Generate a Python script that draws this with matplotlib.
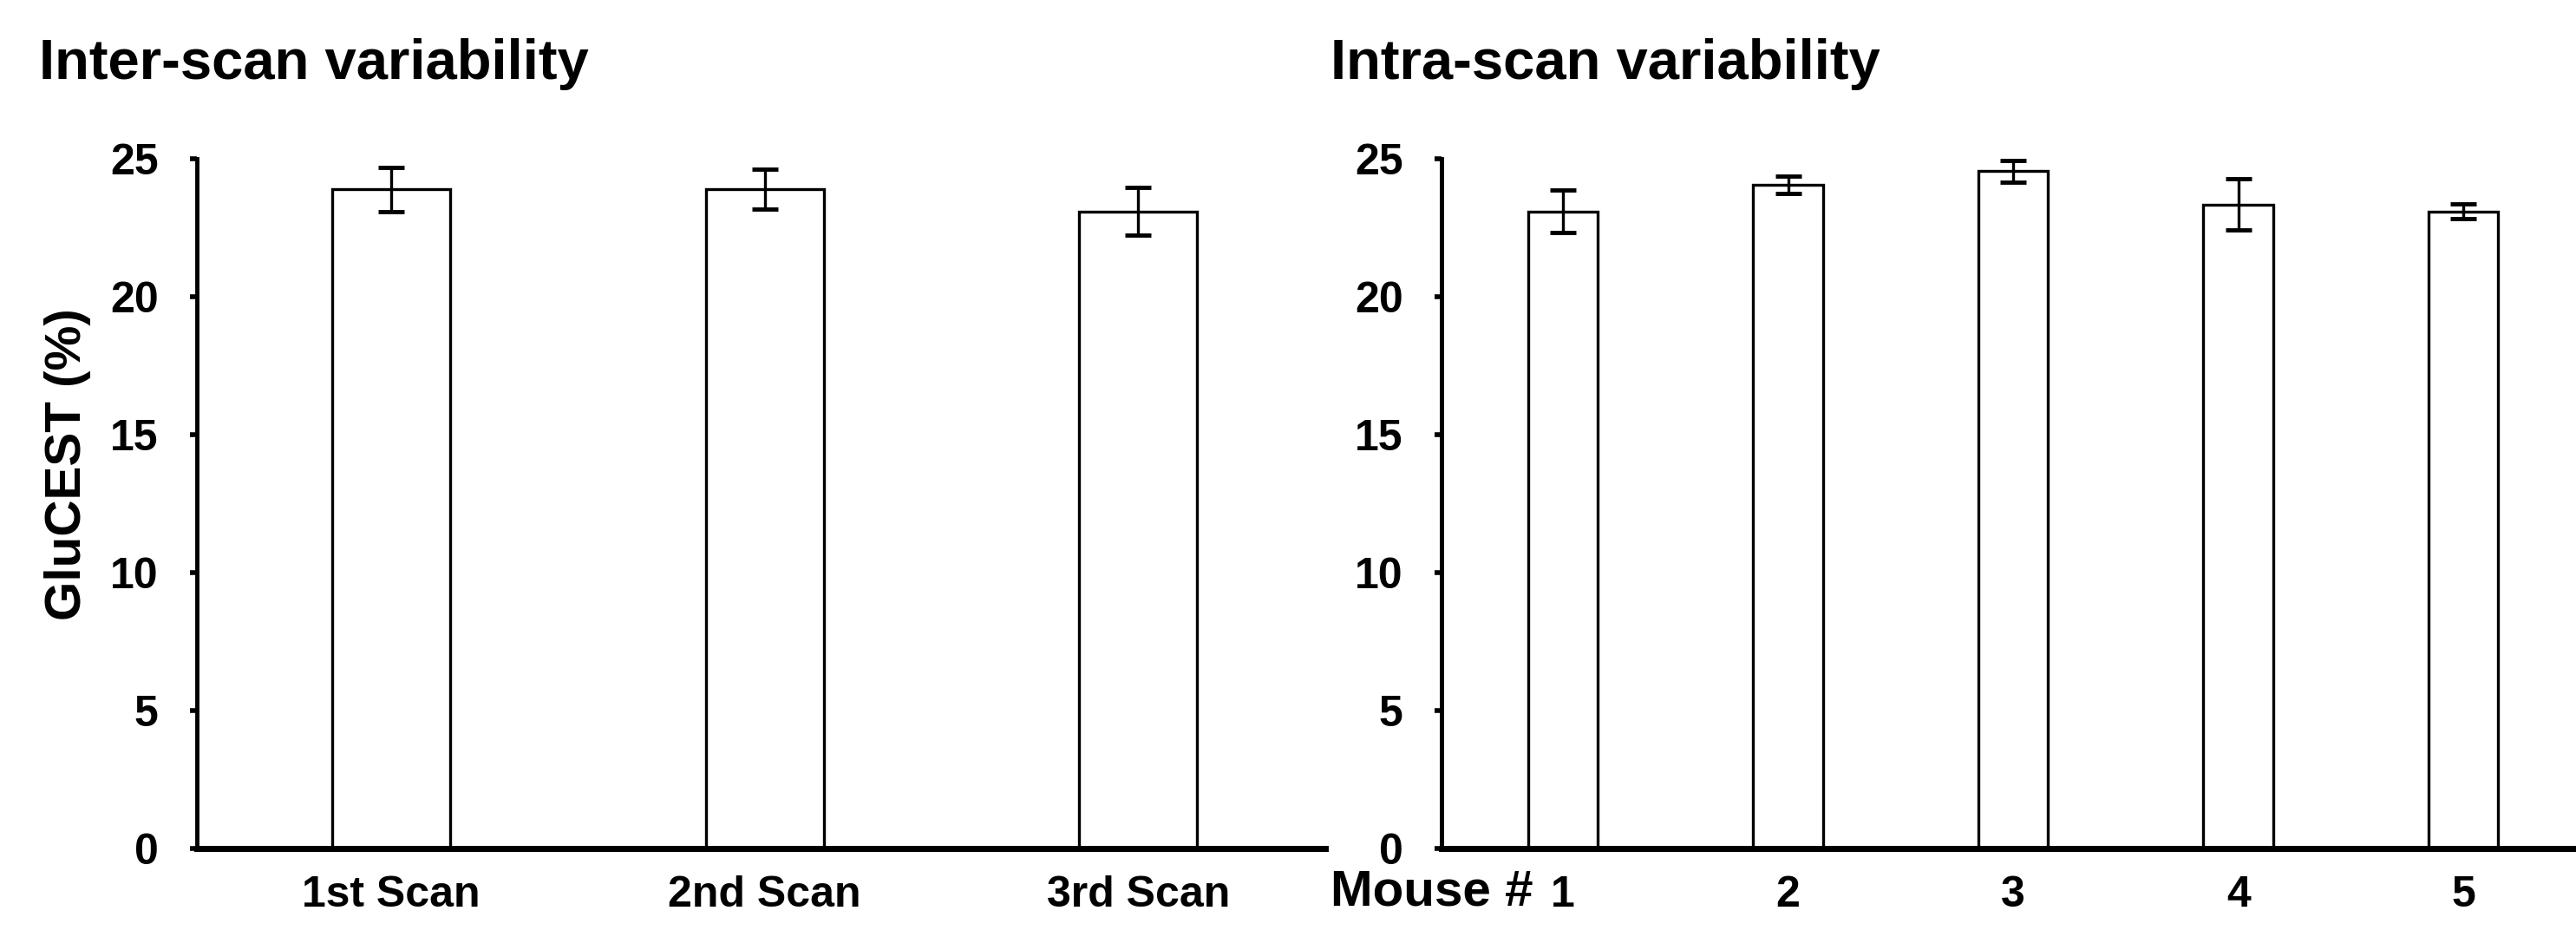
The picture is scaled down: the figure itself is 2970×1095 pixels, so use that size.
import matplotlib
matplotlib.use("Agg")
import matplotlib.pyplot as plt

plt.rcParams["font.family"] = ["Liberation Sans", "DejaVu Sans"]
plt.rcParams["font.weight"] = "bold"

# inter-scan
scan_labels = ["1st Scan", "2nd Scan", "3rd Scan"]
scan_mean = [23.9, 23.9, 23.1]
scan_err = [0.8, 0.72, 0.85]

# intra-scan
mouse_labels = ["1", "2", "3", "4", "5"]
mouse_mean = [23.1, 24.05, 24.55, 23.35, 23.1]
mouse_err = [0.78, 0.32, 0.4, 0.92, 0.28]

yticks = [0, 5, 10, 15, 20, 25]

fig = plt.figure(figsize=(29.7, 10.95), dpi=100)
ax1 = fig.add_axes([0.0764, 0.1068, 0.438, 0.726])
ax2 = fig.add_axes([0.5596, 0.1068, 0.4404, 0.726])


def draw(ax, labels, mean, err, width, xlim):
    x = range(len(labels))
    ax.bar(x, mean, width=width, color="white", edgecolor="black", linewidth=2.4, zorder=2)
    ax.errorbar(x, mean, yerr=err, fmt="none", ecolor="black", elinewidth=2.4,
                capsize=10.5, capthick=3.5, zorder=3)
    ax.set_xlim(*xlim)
    ax.set_ylim(0, 25)
    ax.set_yticks(yticks)
    ax.set_xticks(list(x))
    ax.set_xticklabels(labels, fontsize=36, fontweight="bold")
    for t in ax.get_yticklabels():
        t.set_fontsize(36)
        t.set_fontweight("bold")
    ax.tick_params(axis="x", length=0, pad=22)
    ax.tick_params(axis="y", direction="out", length=6, width=4, pad=26)
    for s in ["top", "right"]:
        ax.spines[s].set_visible(False)
    ax.spines["left"].set_linewidth(3.5)
    ax.spines["bottom"].set_linewidth(5)
    ax.spines["left"].set_bounds(0, 25)


draw(ax1, scan_labels, scan_mean, scan_err, 0.316, (-0.52, 2.5))
draw(ax2, mouse_labels, mouse_mean, mouse_err, 0.31, (-0.54, 4.5))

fig.text(45 / 2970, 1 - 91 / 1095, "Inter-scan variability", fontsize=47,
         fontweight="bold", ha="left", va="baseline")
fig.text(1534 / 2970, 1 - 91 / 1095, "Intra-scan variability", fontsize=47,
         fontweight="bold", ha="left", va="baseline")
fig.text(78 / 2970, 1 - 715 / 1095, "GluCEST (%)", fontsize=42, fontweight="bold",
         rotation=90, ha="center", va="bottom")
fig.text(1768 / 2970, 1 - 1043 / 1095, "Mouse #", fontsize=42, fontweight="bold",
         ha="right", va="baseline")

fig.savefig("out.png", dpi=100)
